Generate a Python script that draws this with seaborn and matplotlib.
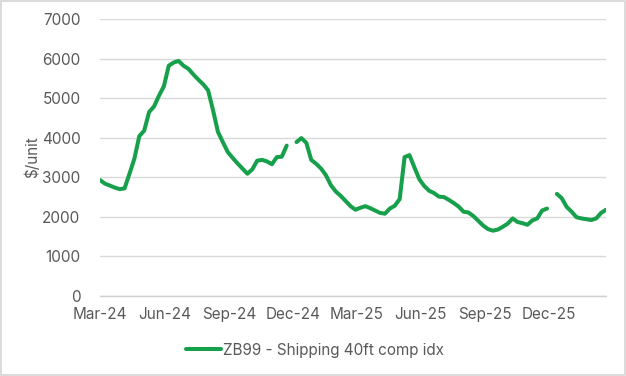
import numpy as np
import pandas as pd
import matplotlib
matplotlib.use("Agg")
import matplotlib.pyplot as plt
import matplotlib.dates as mdates
from matplotlib.lines import Line2D
from matplotlib.patches import Rectangle
import seaborn as sns

start_date = "2024-03-01"
values = [
    2930, 2840, 2790, 2740, 2700, 2720, 3090, 3470, 4040, 4180,
    4650, 4790, 5060, 5300, 5820, 5900, 5940, 5820, 5740, 5600,
    5470, 5350, 5200, 4700, 4150, 3890, 3640, 3490, 3350, 3220,
    3090, 3200, 3420, 3440, 3400, 3330, 3510, 3520, 3800, np.nan,
    3890, 3990, 3870, 3440, 3340, 3220, 3050, 2800, 2640, 2530,
    2400, 2270, 2180, 2230, 2270, 2220, 2160, 2100, 2080, 2210,
    2280, 2450, 3510, 3560, 3250, 2950, 2780, 2660, 2600, 2510,
    2500, 2430, 2350, 2260, 2130, 2110, 2020, 1900, 1780, 1690,
    1650, 1680, 1750, 1830, 1960, 1870, 1840, 1800, 1910, 1960,
    2160, 2210, np.nan, 2580, 2470, 2250, 2130, 1990, 1960, 1940,
    1920, 1960, 2100, 2180,
]
series_name = "ZB99 - Shipping 40ft comp idx"
tick_dates = ["2024-03-01", "2024-06-01", "2024-09-01", "2024-12-01",
              "2025-03-01", "2025-06-01", "2025-09-01", "2025-12-01"]
y_ticks = [0, 1000, 2000, 3000, 4000, 5000, 6000, 7000]

dates = pd.date_range(start_date, periods=len(values), freq="7D")
df = pd.DataFrame({"date": dates, "value": values})
df["seg"] = df["value"].isna().cumsum()
plot_df = df.dropna()

sns.set_theme(style="white")
plt.rcParams["font.family"] = ["Inter", "DejaVu Sans"]

GREEN = "#17a04b"
GRAY_TXT = "#595959"
FS = 11

fig = plt.figure(figsize=(6.26, 3.76), dpi=100)
ax = fig.add_axes([100/626, 1-296/376, 506/626, 277/376])

sns.lineplot(data=plot_df, x="date", y="value", units="seg", estimator=None,
             color=GREEN, linewidth=2.9, ax=ax, legend=False)

ax.set_ylim(0, 7000)
ax.set_yticks(y_ticks)
ax.set_xlim(dates[0], dates[-1])
ax.set_xticks(pd.to_datetime(tick_dates))
ax.xaxis.set_major_formatter(mdates.DateFormatter("%b-%y"))

ax.grid(axis="y", color="#d9d9d9", linewidth=1)
ax.set_axisbelow(True)
for s in ["left", "right", "top"]:
    ax.spines[s].set_visible(False)
ax.spines["bottom"].set_color("#d0d0d0")
ax.spines["bottom"].set_linewidth(1)
ax.tick_params(axis="x", which="major", direction="out", length=5, width=1,
               color="#d0d0d0", labelsize=FS, labelcolor=GRAY_TXT, pad=3)
ax.tick_params(axis="y", length=0, labelsize=FS, labelcolor=GRAY_TXT, pad=14)

ax.set_xlabel("")
ax.set_ylabel("$/unit", fontsize=FS, color=GRAY_TXT, labelpad=1)

handle = Line2D([0], [0], color=GREEN, linewidth=2.9)
fig.legend([handle], [series_name], loc="center", bbox_to_anchor=(315/626, 1-350/376),
           frameon=False, fontsize=FS, labelcolor=GRAY_TXT, handlelength=2.3,
           handletextpad=0.15)

fig.patches.append(Rectangle((0.001, 0.002), 0.997, 0.995, transform=fig.transFigure,
                             fill=False, edgecolor="#d4d4d4", linewidth=1.2))

fig.savefig("out.png", dpi=100)
